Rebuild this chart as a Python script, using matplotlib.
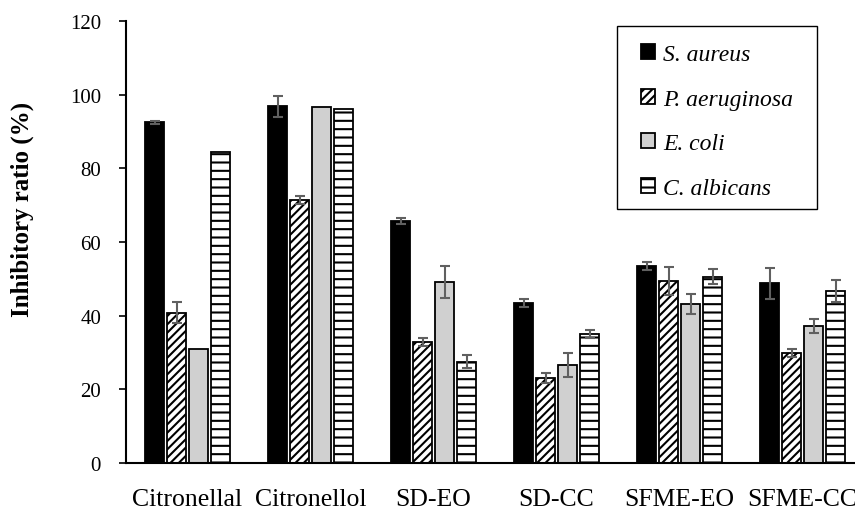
import numpy as np
import matplotlib
matplotlib.use('Agg')
import matplotlib.pyplot as plt
from matplotlib.patches import Rectangle

samples = ['Citronellal', 'Citronellol', 'SD-EO', 'SD-CC', 'SFME-EO', 'SFME-CC']
strains = ['S. aureus', 'P. aeruginosa', 'E. coli', 'C. albicans']

# inhibitory ratio (%) and error per strain
s_aureus = [92.5, 96.8, 65.6, 43.5, 53.5, 48.8]
s_aureus_err = [0.4, 2.9, 0.8, 1.1, 1.2, 4.2]
p_aeruginosa = [40.8, 71.5, 32.8, 23.1, 49.3, 29.9]
p_aeruginosa_err = [2.8, 1.1, 1.0, 1.4, 3.8, 1.1]
e_coli = [31.0, 96.6, 49.1, 26.6, 43.2, 37.1]
e_coli_err = [0, 0, 4.3, 3.3, 2.8, 1.9]
c_albicans = [84.5, 96.2, 27.5, 34.9, 50.6, 46.7]
c_albicans_err = [0, 0, 1.8, 1.1, 2.1, 3.0]

plt.rcParams['font.family'] = ['Liberation Serif', 'DejaVu Serif']
plt.rcParams['hatch.linewidth'] = 1.5

fig = plt.figure(figsize=(8.55, 5.1), dpi=100)
ax = fig.add_axes([0.1474, 0.0902, 0.8632, 0.8667])

x = np.arange(len(samples))
step = 0.179
width = 0.154
series = [
    (s_aureus, s_aureus_err, 'black', ''),
    (p_aeruginosa, p_aeruginosa_err, 'white', '////'),
    (e_coli, e_coli_err, '#d0d0d0', ''),
    (c_albicans, c_albicans_err, 'white', '--'),
]
for i, (vals, errs, col, hatch) in enumerate(series):
    pos = x + (i - 1.5) * step
    ax.bar(pos, vals, width, color=col, edgecolor='black', linewidth=1.3,
           hatch=hatch, label=strains[i], zorder=2)
    vals = np.array(vals)
    errs = np.array(errs)
    m = errs > 0
    ax.errorbar(pos[m], vals[m], yerr=errs[m], fmt='none', ecolor='#606060',
                elinewidth=1.5, capsize=3.8, capthick=1.5, zorder=3)

ax.set_xlim(-0.5, 5.5)
ax.set_ylim(0, 120)
ax.set_yticks(range(0, 121, 20))
ax.set_xticks(x)
ax.set_xticklabels(samples)
ax.tick_params(axis='x', length=0, pad=18, labelsize=18.5)
ax.tick_params(axis='y', direction='out', length=5, width=1.2, pad=13, labelsize=15)
for s in ['top', 'right']:
    ax.spines[s].set_visible(False)
ax.spines['left'].set_linewidth(1.5)
ax.spines['bottom'].set_linewidth(1.5)

ax.set_ylabel('Inhibitory ratio (%)', fontsize=18, fontweight='bold')
ax.yaxis.set_label_coords(-0.125, 0.577)

# legend box drawn separately, entries placed inside without frame
ax.add_patch(Rectangle((0.665, 0.5747), 0.271, 0.414, transform=ax.transAxes,
                       facecolor='white', edgecolor='black', linewidth=1.0,
                       zorder=4))
leg = ax.legend(loc='upper left', bbox_to_anchor=(0.698, 0.948), frameon=False,
                prop={'style': 'italic', 'size': 17}, labelspacing=1.0,
                handlelength=0.6, handleheight=0.6, handletextpad=0.34,
                borderpad=0, borderaxespad=0)
leg.set_zorder(5)

fig.savefig('out.png', dpi=100)
